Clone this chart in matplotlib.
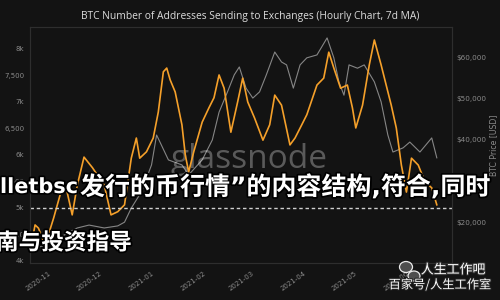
import matplotlib
matplotlib.use("Agg")
import matplotlib.pyplot as plt
import matplotlib.dates as mdates
import matplotlib.patheffects as pe
from matplotlib.patches import Ellipse
import pandas as pd

# ---------------- data ----------------
addr_dates = ["2020-10-21", "2020-10-24", "2020-10-26", "2020-10-30", "2020-11-04", "2020-11-09",
              "2020-11-12", "2020-11-15", "2020-11-18", "2020-11-22", "2020-11-27", "2020-12-04",
              "2020-12-08", "2020-12-12", "2020-12-16", "2020-12-20", "2020-12-23", "2020-12-25",
              "2020-12-29", "2021-01-02", "2021-01-05", "2021-01-08", "2021-01-10", "2021-01-12",
              "2021-01-15", "2021-01-19", "2021-01-21", "2021-01-23", "2021-01-26", "2021-01-31",
              "2021-02-04", "2021-02-07", "2021-02-10", "2021-02-13", "2021-02-17", "2021-02-21",
              "2021-02-24", "2021-02-27", "2021-03-03", "2021-03-08", "2021-03-12", "2021-03-15",
              "2021-03-19", "2021-03-24", "2021-03-27", "2021-03-31", "2021-04-03", "2021-04-09",
              "2021-04-13", "2021-04-16", "2021-04-19", "2021-04-23", "2021-04-27", "2021-04-30",
              "2021-05-02", "2021-05-06", "2021-05-10", "2021-05-13", "2021-05-17", "2021-05-23",
              "2021-05-26", "2021-05-29", "2021-06-01", "2021-06-04", "2021-06-08", "2021-06-12",
              "2021-06-16", "2021-06-19"]
addr_values = [4170, 4680, 4620, 4300, 4810, 5380,
               5300, 4870, 5430, 5960, 5760, 5430,
               4870, 4930, 5060, 5940, 6320, 5940,
               6060, 6320, 6810, 7570, 7640, 7420,
               7190, 6570, 6000, 5680, 6060, 6620,
               6890, 7080, 7510, 7260, 6430, 7000,
               7450, 7000, 6700, 6280, 6570, 7130,
               6940, 6190, 6320, 6570, 6760, 7320,
               7450, 7940, 7640, 7260, 7320, 6890,
               6510, 6940, 7700, 8170, 7700, 6940,
               6510, 5810, 5300, 5940, 5810, 5490,
               5380, 5060]

price_dates = ["2020-10-21", "2020-10-30", "2020-11-07", "2020-11-18", "2020-11-25", "2020-12-04",
               "2020-12-12", "2020-12-16", "2020-12-20", "2020-12-26", "2021-01-01", "2021-01-04",
               "2021-01-06", "2021-01-11", "2021-01-19", "2021-01-23", "2021-01-31", "2021-02-06",
               "2021-02-10", "2021-02-15", "2021-02-19", "2021-02-22", "2021-02-26", "2021-03-02",
               "2021-03-06", "2021-03-10", "2021-03-15", "2021-03-19", "2021-03-22", "2021-03-26",
               "2021-03-30", "2021-04-03", "2021-04-09", "2021-04-15", "2021-04-19", "2021-04-22",
               "2021-04-25", "2021-04-28", "2021-05-03", "2021-05-07", "2021-05-13", "2021-05-17",
               "2021-05-21", "2021-05-24", "2021-05-30", "2021-06-03", "2021-06-09", "2021-06-16",
               "2021-06-19"]
price_values = [13500, 14700, 16400, 18800, 19500, 18800,
                19300, 20200, 23600, 27500, 34000, 41200,
                39500, 35200, 34000, 31600, 35200, 40000,
                46700, 51600, 55700, 57600, 52500, 50100,
                51600, 55700, 61200, 58800, 58100, 52500,
                58100, 59800, 60500, 64600, 59800, 54000,
                50800, 58100, 57300, 58100, 54000, 49200,
                41200, 37100, 38100, 39500, 37100, 40500,
                35700]

left_ticks = [4000, 4500, 5000, 5500, 6000, 6500, 7000, 7500, 8000]
left_labels = ["4k", "4,500", "5k", "5,500", "6k", "6,500", "7k", "7,500", "8k"]
right_ticks = [20000, 30000, 40000, 50000, 60000]
right_labels = ["$20,000", "$30,000", "$40,000", "$50,000", "$60,000"]
ref_level = 5000

title = "BTC Number of Addresses Sending to Exchanges (Hourly Chart, 7d MA)"
overlay_latin = "lletbsc"
overlay_line1 = "发行的币行情”的内容结构,符合,同时"
overlay_line2 = "南与投资指导"
wm_line1 = "人生工作吧"
wm_line2 = "百家号/人生工作室"

# ---------------- style ----------------
BG = "#131313"
ORANGE = "#f5a02a"
GREY = "#9a9a9a"
TICK = "#8a8a8a"

W, H = 500, 300
fig = plt.figure(figsize=(5, 3), dpi=100, facecolor=BG)

def fx(px):
    return px / W

def fy(py):
    return 1 - py / H

ax = fig.add_axes([fx(30), fy(263), fx(452) - fx(30), fy(27) - fy(263)])
ax2 = ax.twinx()

ax2.set_facecolor(BG)
ax.set_zorder(ax2.get_zorder() + 1)
ax.patch.set_visible(False)

ad = pd.to_datetime(addr_dates)
pdts = pd.to_datetime(price_dates)

ax2.plot(pdts, price_values, color=GREY, lw=0.8, alpha=0.85)
ax.plot(ad, addr_values, color=ORANGE, lw=1.2)
ax.axhline(ref_level, color="#cfcfcf", lw=1.0, ls=(0, (2.5, 2)))

ax.set_xlim(pd.Timestamp("2020-10-21"), pd.Timestamp("2021-06-28"))
ax.set_ylim(3962, 8415)
ax2.set_ylim(10360, 67230)

ax.set_yticks(left_ticks)
ax.set_yticklabels(left_labels)
ax2.set_yticks(right_ticks)
ax2.set_yticklabels(right_labels)

ax.xaxis.set_major_locator(mdates.MonthLocator())
ax.xaxis.set_major_formatter(mdates.DateFormatter("%Y-%m"))
for lab in ax.get_xticklabels():
    lab.set_rotation(35)
    lab.set_ha("right")
    lab.set_rotation_mode("anchor")

ax.tick_params(axis="x", length=0, pad=5, labelsize=5, colors=TICK)
ax.tick_params(axis="y", length=0, pad=4, labelsize=5, colors=TICK)
ax2.tick_params(axis="y", length=0, pad=3, labelsize=5.2, colors=TICK)
ax2.set_ylabel("BTC Price [USD]", color=TICK, fontsize=5.6, labelpad=2)

for a in (ax, ax2):
    for s in a.spines.values():
        s.set_color("#2e2e2e")
        s.set_linewidth(0.8)

fig.text(0.5, fy(16), title, ha="center", va="center", color="#dcdcdc",
         fontsize=7.4, family=["Open Sans", "DejaVu Sans"])

# glassnode watermark
ax.text(0.52, 0.44, "glassnode", transform=ax.transAxes, ha="center", va="center",
        fontsize=24, color="white", alpha=0.3, family=["Open Sans", "DejaVu Sans"], zorder=0)

# overlay text
stroke = [pe.withStroke(linewidth=2.5, foreground="black")]
fams = ["DejaVu Sans", "Noto Sans CJK SC"]
fig.text(fx(0), fy(187), overlay_latin, ha="left", va="center", color="white",
         fontsize=15, fontweight="bold", family=fams, path_effects=stroke)
fig.text(fx(80), fy(187), overlay_line1, ha="left", va="center", color="white",
         fontsize=18.0, fontweight="bold", family=fams, path_effects=stroke)
fig.text(fx(-4), fy(243), overlay_line2, ha="left", va="center", color="white",
         fontsize=16.3, fontweight="bold", family=fams, path_effects=stroke)

# bottom-right watermark
cjk = ["Noto Sans CJK SC", "DejaVu Sans"]
fig.text(fx(453), fy(270), wm_line1, ha="center", va="center", color="white",
         fontsize=9.3, family=cjk, path_effects=[pe.withStroke(linewidth=1.5, foreground="#333333")])
fig.text(fx(440), fy(285), wm_line2, ha="center", va="center", color="white",
         fontsize=8.8, family=cjk, path_effects=[pe.withStroke(linewidth=1.5, foreground="#222222")])
for cx, cy, w, h in [(406, 267, 13, 11), (414, 276, 12, 10)]:
    e = Ellipse((fx(cx), fy(cy)), fx(w), h / H, transform=fig.transFigure,
                facecolor="#555555", edgecolor="white", lw=0.9, alpha=0.9)
    fig.patches.append(e)

fig.savefig("out.png", dpi=100, facecolor=BG)
